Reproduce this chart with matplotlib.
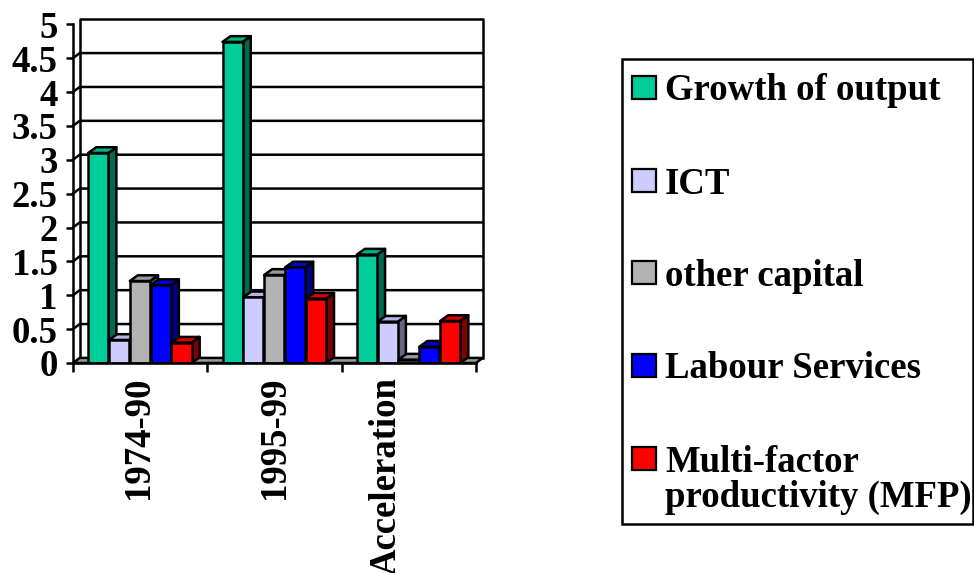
import matplotlib
matplotlib.use("Agg")
import matplotlib.pyplot as plt
from matplotlib.patches import Polygon, Rectangle
import numpy as np

# ---- data ----
categories = ["1974-90", "1995-99", "Acceleration"]
series_names = ["Growth of output", "ICT", "other capital", "Labour Services",
                "Multi-factor\nproductivity (MFP)"]
growth_of_output = [3.10, 4.74, 1.60]
ict = [0.34, 0.97, 0.61]
other_capital = [1.21, 1.30, 0.05]
labour_services = [1.15, 1.41, 0.24]
mfp = [0.30, 0.95, 0.62]
y_ticks = [0, 0.5, 1, 1.5, 2, 2.5, 3, 3.5, 4, 4.5, 5]
y_tick_labels = ["0", "0.5", "1", "1.5", "2", "2.5", "3", "3.5", "4", "4.5", "5"]

series = [growth_of_output, ict, other_capital, labour_services, mfp]
face_colors = ["#00CC99", "#CCCCFF", "#B2B2B2", "#0000FF", "#FF0000"]
side_colors = ["#006A50", "#666680", "#595959", "#000080", "#800000"]
top_colors = ["#00B386", "#B3B3E6", "#9A9A9A", "#0000D0", "#D80000"]

FONT = dict(family="Liberation Serif", weight="bold", size=26.5)

W, H = 974, 573
fig = plt.figure(figsize=(W / 100, H / 100), dpi=100)

# pixel geometry of the plot area
x0px, y0px = 73, 363
px_per_cat = (476 - 73) / 3
px_per_unit = (363 - 24.3) / 5
right_px, top_px = 485, 19
ax = fig.add_axes([x0px / W, 1 - y0px / H, (right_px - x0px) / W, (y0px - top_px) / H])
ax.set_xlim(0, (right_px - x0px) / px_per_cat)
ax.set_ylim(0, (y0px - top_px) / px_per_unit)
for s in ax.spines.values():
    s.set_visible(False)
ax.patch.set_alpha(0)

lw = 1.8
wdx, wdy = 0.05, 0.075     # wall depth offset (data units)
bdx, bdy = 0.06, 0.085     # bar depth offset
xmax = 3.0

# back wall outline and gridlines
ax.plot([wdx, wdx, xmax + wdx, xmax + wdx], [wdy, 5 + wdy, 5 + wdy, wdy],
        color="black", lw=lw, zorder=1, clip_on=False)
for v in y_ticks[1:-1]:
    ax.plot([0, wdx, xmax + wdx], [v, v + wdy, v + wdy], color="black", lw=lw,
            zorder=1, clip_on=False)
# floor
ax.add_patch(Polygon([(0, 0), (xmax, 0), (xmax + wdx, wdy), (wdx, wdy)], closed=True,
                     facecolor="#9A9A9A", edgecolor="black", lw=lw, zorder=1.5,
                     clip_on=False))
# front axes lines
ax.plot([0, 0], [0, 5], color="black", lw=lw, zorder=50, clip_on=False)
ax.plot([0, xmax], [0, 0], color="black", lw=lw, zorder=50, clip_on=False)

# bars
bar_w = 0.15
step = 0.155
start = 0.113
z = 2
for ci in range(len(categories)):
    for si, vals in enumerate(series):
        v = vals[ci]
        xl = ci + start + si * step
        xr = xl + bar_w
        front = Rectangle((xl, 0), bar_w, v, facecolor=face_colors[si],
                          edgecolor="black", lw=lw, zorder=z + 0.2, joinstyle="round")
        side = Polygon([(xr, 0), (xr + bdx, bdy), (xr + bdx, v + bdy), (xr, v)],
                       closed=True, facecolor=side_colors[si], edgecolor="black",
                       lw=lw, zorder=z, joinstyle="round")
        top = Polygon([(xl, v), (xl + bdx, v + bdy), (xr + bdx, v + bdy), (xr, v)],
                      closed=True, facecolor=top_colors[si], edgecolor="black",
                      lw=lw, zorder=z + 0.1, joinstyle="round")
        ax.add_patch(side)
        ax.add_patch(top)
        ax.add_patch(front)
        z += 1

# y ticks
ax.set_yticks(y_ticks)
ax.set_yticklabels(y_tick_labels, fontdict=FONT)
ax.tick_params(axis="y", length=5, width=lw, pad=6, direction="out")
# x ticks: major marks at category borders, minor carry labels
ax.set_xticks([0, 1, 2, 3])
ax.set_xticklabels([])
ax.tick_params(axis="x", which="major", length=6.5, width=lw, direction="out")
ax.set_xticks([0.49, 1.50, 2.33], minor=True)
ax.set_xticklabels(categories, minor=True, fontdict=FONT, rotation=90)
ax.tick_params(axis="x", which="minor", length=0, pad=10)

# legend (drawn in pixel coordinates on an overlay)
lg = fig.add_axes([0, 0, 1, 1])
lg.set_xlim(0, W)
lg.set_ylim(H, 0)
lg.axis("off")
lg.patch.set_alpha(0)
lg.add_patch(Rectangle((622, 59), 351, 465, facecolor="none", edgecolor="black", lw=1.8))
centers = [87, 180, 272, 365, 458]
for i, name in enumerate(series_names):
    cy = centers[i]
    lg.add_patch(Rectangle((632, cy - 11.5), 24, 23, facecolor=face_colors[i],
                           edgecolor="black", lw=1.6))
    lines = name.split("\n")
    for j, line in enumerate(lines):
        lg.text(665, cy + j * 35, line, ha="left", va="center_baseline", **FONT)

fig.savefig("out.png", dpi=100)
